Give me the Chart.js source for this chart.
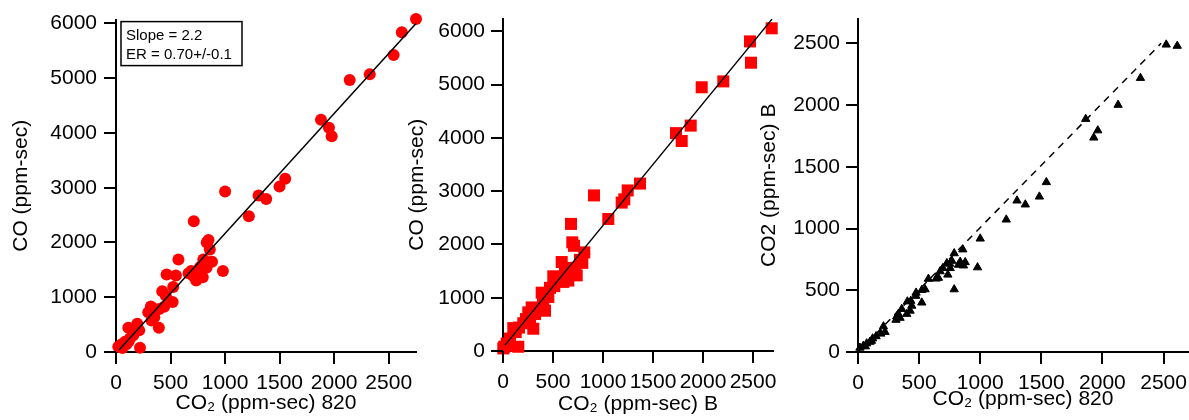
<!DOCTYPE html>
<html>
<head>
<meta charset="utf-8">
<script src="https://cdn.jsdelivr.net/npm/chart.js@4/dist/chart.umd.min.js"></script>
<style>
  html, body { margin: 0; padding: 0; background: #fff; overflow: hidden; }
  body { width: 1189px; height: 420px; position: relative; }
  canvas { position: absolute; top: 0; }
</style>
</head>
<body>
<canvas id="c1" width="422" height="420" style="left:0px"></canvas>
<canvas id="c2" width="390" height="420" style="left:395px"></canvas>
<canvas id="c3" width="445" height="420" style="left:750px"></canvas>
<script>
// tick values
const ticksCO2 = [0, 500, 1000, 1500, 2000, 2500];
const ticksCO = [0, 1000, 2000, 3000, 4000, 5000, 6000];

// panel 1: CO vs CO2 (820)
const co2_820_a = [2750, 2620, 2545, 2326, 2142, 1879, 1952, 1977, 1551, 1499, 1307, 1377, 1218, 1000, 713, 848, 832, 860, 880, 800,
  785, 830, 980, 572, 464, 549, 665, 690, 725, 750, 770, 815, 705, 735, 795, 845, 524, 424, 457, 519,
  442, 320, 396, 296, 345, 351, 326, 393, 113, 195, 213, 158, 128, 82, 52, 21, 38, 220, 95, 60, 115, 170];
const co_a = [6080, 5840, 5425, 5070, 4965, 4240, 4095, 3940, 3165, 3020, 2860, 2795, 2480, 2930, 2388, 2045, 2000, 1870, 1650, 1690,
  1560, 1540, 1480, 1690, 1416, 1398, 1440, 1480, 1420, 1480, 1550, 1610, 1390, 1305, 1365, 1640, 1185, 1110, 1025, 915,
  825, 830, 785, 725, 790, 635, 575, 442, 442, 515, 395, 305, 245, 185, 143, 95, 115, 78, 140, 75, 190, 360];
const fit_a_x = [30, 2750];
const fit_a_y = [40, 6000];
const statsLines = ['Slope = 2.2', 'ER = 0.70+/-0.1'];

// panel 2: CO vs CO2 (B)
const co2_b = [2687, 2470, 2480, 2203, 1987, 1877, 1730, 1787, 1370, 1247, 1213, 1187, 1053, 910, 680, 693, 710, 813, 770, 793,
  587, 720, 737, 620, 503, 547, 653, 603, 680, 700, 513, 470, 387, 453, 403, 420, 287, 253, 320, 270,
  203, 303, 103, 160, 127, 70, 37, 13, 153, 50, 3, 400, 350, 230];
const co_b = [6058, 5812, 5412, 5061, 4951, 4231, 4090, 3942, 3143, 3014, 2847, 2786, 2478, 2921, 2386, 2040, 1975, 1851, 1710, 1655,
  1670, 1525, 1420, 1495, 1402, 1383, 1322, 1297, 1560, 1450, 1218, 1185, 1095, 1014, 928, 756, 818, 725, 694, 601,
  521, 418, 430, 440, 356, 233, 141, 80, 80, 100, 49, 1040, 800, 600];
const fit_b_x = [20, 2690];
const fit_b_y = [110, 6230];

// panel 3: CO2 (B) vs CO2 (820)
const co2_820_c = [2522, 2612, 2311, 2128, 1863, 1962, 1929, 1541, 1484, 1369, 1301, 1213, 1000, 978, 858, 787, 787, 822, 863, 877,
  836, 768, 750, 754, 735, 694, 672, 658, 639, 576, 549, 522, 522, 475, 473, 432, 404, 440, 426, 399,
  358, 330, 317, 311, 344, 221, 208, 186, 148, 120, 98, 71, 44, 16, 60, 110, 727];
const co2_b_c = [2489, 2479, 2219, 2001, 1887, 1794, 1736, 1375, 1258, 1194, 1226, 1072, 918, 685, 830, 799, 507, 706, 700, 727,
  730, 738, 714, 679, 626, 679, 653, 600, 594, 592, 507, 502, 400, 480, 454, 414, 409, 374, 334, 308,
  348, 308, 287, 260, 276, 162, 207, 148, 127, 109, 82, 69, 50, 34, 45, 90, 719];
const one_to_one_x = [0, 2480];
const one_to_one_y = [0, 2500];

const FONT = "'Liberation Sans', Arial, sans-serif";
const TICK_LEN = 12;

function pts(xs, ys) {
  return xs.map((x, i) => ({ x: x, y: ys[i] }));
}

function axis(min, max, tickValues, title, isY, size, tickPad, titlePad) {
  return {
    type: 'linear',
    min: min,
    max: max,
    border: { display: true, color: '#000', width: 2 },
    grid: {
      display: true, drawOnChartArea: false, drawTicks: true, tickLength: TICK_LEN,
      color: '#000', lineWidth: 2
    },
    ticks: {
      autoSkip: false, maxRotation: 0, color: '#000', padding: tickPad,
      font: { family: FONT, size: 21 },
      callback: v => String(v)
    },
    title: {
      display: true, text: title, color: '#000', padding: titlePad,
      font: { family: FONT, size: 21 }
    },
    // use the fixed tick list instead of chart.js' own spacing
    afterBuildTicks: s => { s.ticks = tickValues.map(v => ({ value: v })); },
    afterFit: s => { if (isY) s.width = size; else s.height = size; }
  };
}

// outward tick marks, placed from the scales' own pixel mapping
const tickMarks = {
  id: 'tickMarks',
  afterDraw(chart) {
    const { ctx, chartArea, scales } = chart;
    ctx.save();
    ctx.strokeStyle = '#000';
    ctx.lineWidth = 2;
    ctx.beginPath();
    scales.x.ticks.forEach(t => {
      const px = Math.round(scales.x.getPixelForValue(t.value));
      ctx.moveTo(px, chartArea.bottom);
      ctx.lineTo(px, chartArea.bottom + TICK_LEN);
    });
    scales.y.ticks.forEach(t => {
      const py = Math.round(scales.y.getPixelForValue(t.value));
      ctx.moveTo(chartArea.left, py);
      ctx.lineTo(chartArea.left - TICK_LEN, py);
    });
    ctx.stroke();
    ctx.restore();
  }
};

function makeChart(id, lineData, dash, pointData, pointStyle, color, radius, xScale, yScale, padRight, extra) {
  return new Chart(document.getElementById(id), {
    type: 'scatter',
    data: {
      datasets: [
        {
          data: lineData, showLine: true, pointRadius: 0, borderColor: '#000',
          borderWidth: 1.5, borderDash: dash, clip: false
        },
        {
          data: pointData, pointStyle: pointStyle, pointRadius: radius,
          backgroundColor: color, borderColor: color, borderWidth: pointStyle === 'triangle' ? 1 : 0, clip: false
        }
      ]
    },
    options: {
      responsive: false,
      animation: false,
      layout: { padding: { top: 13, right: padRight, bottom: 0, left: 0 } },
      plugins: { legend: { display: false }, tooltip: { enabled: false } },
      scales: { x: xScale, y: yScale }
    },
    plugins: extra ? [tickMarks, extra] : [tickMarks]
  });
}

const statsBox = {
  id: 'statsBox',
  afterDraw(chart) {
    const { ctx, chartArea } = chart;
    const x = chartArea.left + 5, y = chartArea.top + 2;
    ctx.save();
    ctx.strokeStyle = '#000';
    ctx.lineWidth = 1.5;
    ctx.strokeRect(x, y, 121, 44);
    ctx.fillStyle = '#000';
    ctx.font = '15px ' + FONT;
    ctx.fillText(statsLines[0], x + 5, y + 18);
    ctx.fillText(statsLines[1], x + 5, y + 37);
    ctx.restore();
  }
};

makeChart('c1', pts(fit_a_x, fit_a_y), [], pts(co2_820_a, co_a), 'circle', '#ff0000', 6,
  axis(0, 2750, ticksCO2, 'CO\u2082 (ppm-sec) 820', false, 68, 7, { top: 0, bottom: 4 }),
  axis(0, 6070, ticksCO, 'CO (ppm-sec)', true, 116, 7, { top: 9, bottom: 0 }),
  5, statsBox);

makeChart('c2', pts(fit_b_x, fit_b_y), [], pts(co2_b, co_b), 'rect', '#ff0000', 8.5,
  axis(0, 2700, ticksCO2, 'CO\u2082 (ppm-sec) B', false, 69, 7, { top: 0, bottom: 3 }),
  axis(0, 6240, ticksCO, 'CO (ppm-sec)', true, 108, 6, { top: 10, bottom: 0 }),
  12);

makeChart('c3', pts(one_to_one_x, one_to_one_y), [7, 6], pts(co2_820_c, co2_b_c), 'triangle', '#000', 4.8,
  axis(0, 2700, ticksCO2, 'CO\u2082 (ppm-sec) 820', false, 68, 7, { top: 0, bottom: 8 }),
  axis(0, 2700, ticksCO2, 'CO2 (ppm-sec) B', true, 108, 6, { top: 7, bottom: 0 }),
  7);
</script>
</body>
</html>
